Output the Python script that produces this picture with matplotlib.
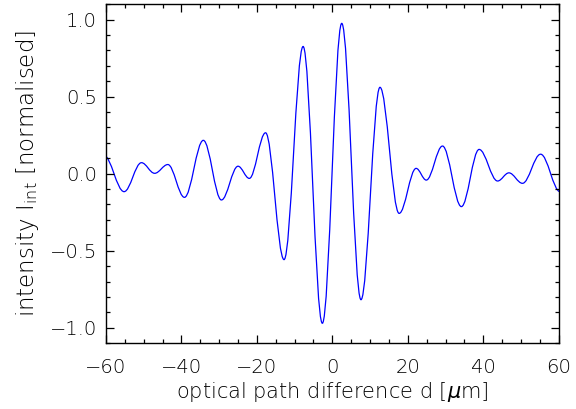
import numpy as np
import matplotlib
matplotlib.use('Agg')
import matplotlib.pyplot as plt
from matplotlib.path import Path
from matplotlib.patches import PathPatch
from matplotlib.ticker import MultipleLocator, FuncFormatter

plt.rcParams['font.family'] = ['DejaVu Sans']
plt.rcParams['font.weight'] = 'light'
plt.rcParams['axes.labelweight'] = 'light'
plt.rcParams['mathtext.fontset'] = 'custom'
plt.rcParams['mathtext.rm'] = 'DejaVu Sans:light'
plt.rcParams['mathtext.it'] = 'DejaVu Sans:italic:light'

# maximos y minimos del interferograma leidos del grafico
# d = diferencia de camino optico [um], intensidad normalizada
d_ext = [-60.6, -55.2, -50.6, -47.1, -43.6, -39.2, -34.2, -29.4, -25.0, -22.0,
         -17.7, -12.8, -7.75, -2.65, 2.49, 7.59, 12.62, 17.7, 22.2, 24.9,
         29.2, 34.2, 38.9, 43.8, 46.8, 50.4, 55.2, 60.4]
i_ext = [0.120, -0.117, 0.071, 0.002, 0.059, -0.154, 0.216, -0.171, 0.048, -0.031,
         0.265, -0.558, 0.825, -0.971, 0.975, -0.818, 0.560, -0.258, 0.034, -0.042,
         0.179, -0.214, 0.157, -0.048, 0.005, -0.063, 0.126, -0.118]

# curva suave entre extremos (bezier con tangente horizontal en cada extremo)
k = 1 - 2 / np.pi
verts = [(d_ext[0], i_ext[0])]
codes = [Path.MOVETO]
for x0, y0, x1, y1 in zip(d_ext[:-1], i_ext[:-1], d_ext[1:], i_ext[1:]):
    dx = x1 - x0
    verts += [(x0 + k * dx, y0), (x1 - k * dx, y1), (x1, y1)]
    codes += [Path.CURVE4] * 3

fig = plt.figure(figsize=(5.76, 4.09), dpi=100)
ax = fig.add_axes([0.184, 0.161, 0.786, 0.829])
ax.add_patch(PathPatch(Path(verts, codes), fill=False, edgecolor='#0000ff', linewidth=0.9))

ax.set_xlim(-60, 60)
ax.set_ylim(-1.1, 1.1)
ax.xaxis.set_major_locator(MultipleLocator(20))
ax.xaxis.set_minor_locator(MultipleLocator(5))
ax.yaxis.set_major_locator(MultipleLocator(0.5))
ax.yaxis.set_minor_locator(MultipleLocator(0.1))
ax.tick_params(which='both', direction='in', top=True, right=True, width=0.9)
ax.tick_params(which='major', length=6, labelsize=14)
ax.tick_params(which='minor', length=3)
ax.tick_params(axis='x', pad=10.5)
ax.tick_params(axis='y', pad=6.5)
ax.xaxis.set_major_formatter(FuncFormatter(lambda v, p: '%d' % v if v >= 0 else '\u2212%d' % -v))
ax.yaxis.set_major_formatter(FuncFormatter(lambda v, p: '%.1f' % v if v >= 0 else '\u2212%.1f' % -v))
for s in ax.spines.values():
    s.set_linewidth(1.0)

ax.set_xlabel(r'optical path difference d [$\mu$m]', fontsize=15, labelpad=2)
ax.set_ylabel(r'intensity I$_{\mathrm{int}}$ [normalised]', fontsize=16.5, labelpad=6)

fig.savefig('out.png', dpi=100)
